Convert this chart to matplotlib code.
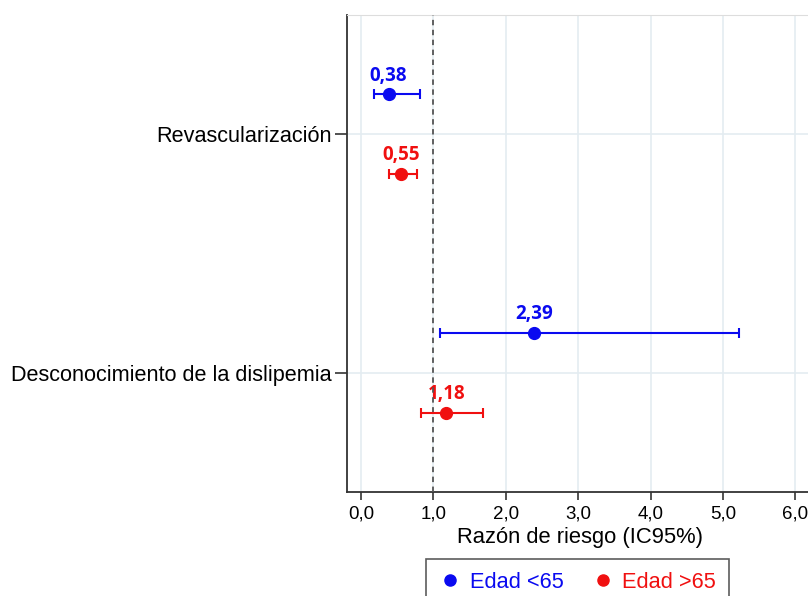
import matplotlib
matplotlib.use('Agg')
import matplotlib.pyplot as plt
from matplotlib.lines import Line2D

categorias = ['Revascularización', 'Desconocimiento de la dislipemia']
y_cat = [1, 0]

# Edad <65
hr_jov = [0.38, 2.39]
lo_jov = [0.18, 1.09]
hi_jov = [0.81, 5.22]
# Edad >65
hr_may = [0.55, 1.18]
lo_may = [0.39, 0.83]
hi_may = [0.78, 1.68]

xticks = [0, 1, 2, 3, 4, 5, 6]
xtick_labels = ['0,0', '1,0', '2,0', '3,0', '4,0', '5,0', '6,0']

azul = '#0a0af0'
rojo = '#f01010'
off = 0.167

plt.rcParams['font.family'] = ['Liberation Sans', 'DejaVu Sans']

fig = plt.figure(figsize=(8.08, 5.96), dpi=100)
ax = fig.add_axes([0.4295, 0.1745, 0.5755, 0.8003])

for hr, lo, hi, color, d in [(hr_jov, lo_jov, hi_jov, azul, off),
                             (hr_may, lo_may, hi_may, rojo, -off)]:
    ys = [y + d for y in y_cat]
    err = [[h - l for h, l in zip(hr, lo)], [u - h for h, u in zip(hr, hi)]]
    ax.errorbar(hr, ys, xerr=err, fmt='o', color=color, ms=8.5,
                elinewidth=1.5, capsize=3.6, capthick=1.5, zorder=4)
    for x, y in zip(hr, ys):
        ax.annotate(f'{x:.2f}'.replace('.', ','), (x, y), xytext=(0, 10),
                    textcoords='offset points', ha='center', va='baseline',
                    color=color, fontsize=13.5, fontweight='bold',
                    family=['Open Sans', 'DejaVu Sans'])

ax.axvline(1, color='#555555', ls=(0, (3, 2.5)), lw=1.3, zorder=3)

ax.set_xlim(-0.193, 6.23)
ax.set_ylim(-0.5, 1.5)
ax.set_xticks(xticks)
ax.set_xticklabels(xtick_labels, fontsize=13.5)
ax.set_yticks(y_cat)
ax.set_yticklabels(categorias, fontsize=15.6)
ax.set_xlabel('Razón de riesgo (IC95%)', fontsize=15.8, labelpad=3)

ax.grid(True, color='#e4ecf1', lw=1.2)
ax.set_axisbelow(True)
ax.tick_params(axis='x', length=6, width=1.2, color='#333333', pad=4)
ax.tick_params(axis='y', length=9, width=1.2, color='#333333', pad=2)
for s in ['left', 'bottom']:
    ax.spines[s].set_color('#333333')
    ax.spines[s].set_linewidth(1.3)
ax.spines['top'].set_color('#dddddd')
ax.spines['right'].set_visible(False)

handles = [Line2D([], [], ls='none', marker='o', color=azul, ms=8),
           Line2D([], [], ls='none', marker='o', color=rojo, ms=8)]
leg = fig.legend(handles, ['Edad <65', 'Edad >65'], loc='upper center',
                 bbox_to_anchor=(0.715, 0.062), ncol=2, fontsize=15.7,
                 frameon=True, fancybox=False, edgecolor='#333333',
                 borderpad=0.6, borderaxespad=0, handletextpad=0.4,
                 columnspacing=1.3, handlelength=1.0)
leg.get_frame().set_linewidth(1.2)
for t, c in zip(leg.get_texts(), [azul, rojo]):
    t.set_color(c)

fig.savefig('out.png', dpi=100)
